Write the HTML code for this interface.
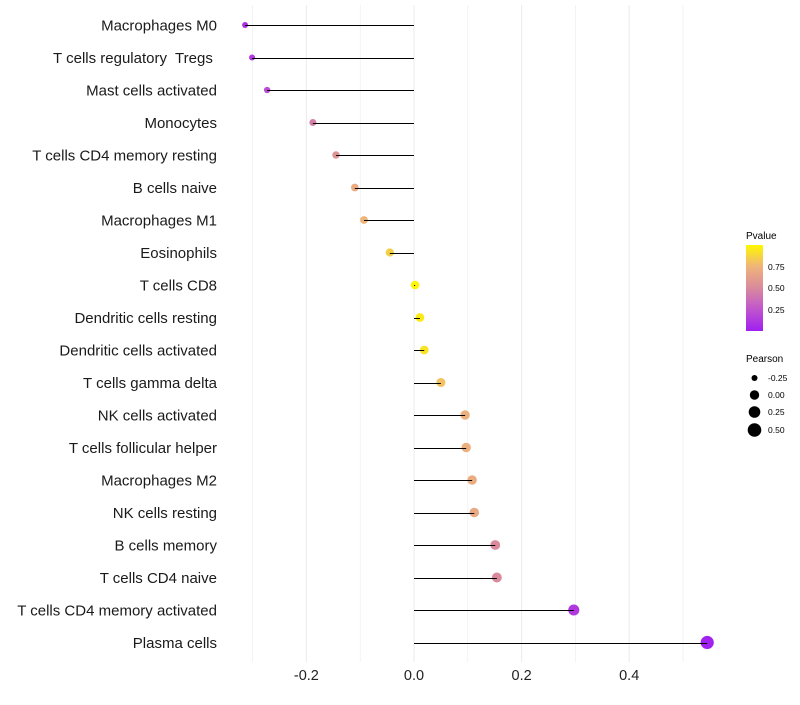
<!DOCTYPE html>
<html><head><meta charset="utf-8"><style>
body{margin:0;background:#fff;font-family:"Liberation Sans",sans-serif}
</style></head><body>
<svg id="c" width="800" height="700" xmlns="http://www.w3.org/2000/svg">
<defs><linearGradient id="pg" x1="0" y1="1" x2="0" y2="0">
<stop offset="0" stop-color="#a01ff0"/><stop offset="0.3" stop-color="#c55fc6"/><stop offset="0.5" stop-color="#d98a9c"/><stop offset="0.75" stop-color="#efb47a"/><stop offset="1" stop-color="#fff700"/></linearGradient></defs>
<g id="grid"></g><g id="pts"></g><g id="marks"></g><g id="ylab"></g><g id="xlab"></g>
<g>
<text x="746" y="239" font-size="10">Pvalue</text>
<rect x="746" y="245" width="17" height="86" fill="url(#pg)"/>
<text x="768" y="270" font-size="8.5">0.75</text>
<text x="768" y="291" font-size="8.5">0.50</text>
<text x="768" y="313" font-size="8.5">0.25</text>
</g>
<g>
<text x="746" y="362" font-size="10">Pearson</text>
<circle cx="754.5" cy="378" r="3"/>
<circle cx="754.5" cy="395" r="4.7"/>
<circle cx="754.5" cy="412" r="5.8"/>
<circle cx="754.5" cy="430" r="6.8"/>
<text x="768" y="381" font-size="8.5">-0.25</text>
<text x="768" y="398" font-size="8.5">0.00</text>
<text x="768" y="415" font-size="8.5">0.25</text>
<text x="768" y="433" font-size="8.5">0.50</text>
</g>
</svg>
<script>
const categories=["Macrophages M0","T cells regulatory  Tregs ","Mast cells activated","Monocytes","T cells CD4 memory resting","B cells naive","Macrophages M1","Eosinophils","T cells CD8","Dendritic cells resting","Dendritic cells activated","T cells gamma delta","NK cells activated","T cells follicular helper","Macrophages M2","NK cells resting","B cells memory","T cells CD4 naive","T cells CD4 memory activated","Plasma cells"];
const pearson=[-0.314,-0.301,-0.273,-0.188,-0.145,-0.110,-0.093,-0.045,0.002,0.011,0.019,0.050,0.095,0.097,0.108,0.112,0.151,0.154,0.297,0.545];
const pvalues=[0.08,0.12,0.2,0.45,0.55,0.7,0.75,0.85,0.99,0.95,0.92,0.8,0.72,0.72,0.7,0.68,0.5,0.5,0.12,0.01];
const xticks=[-0.2,0.0,0.2,0.4];
const xtickLabels=["-0.2","0.0","0.2","0.4"];
const NS="http://www.w3.org/2000/svg";
const X=v=>414+v*538;
const Y=i=>25+i*32.5;
const R=v=>4.3+4.2*v;
const stops=[[0,[160,31,240]],[0.3,[197,95,198]],[0.5,[217,138,156]],[0.75,[239,180,122]],[1,[255,247,0]]];
function col(p){for(let k=1;k<stops.length;k++){if(p<=stops[k][0]){const a=stops[k-1],b=stops[k],t=(p-a[0])/(b[0]-a[0]);return`rgb(${a[1].map((c,j)=>Math.round(c+(b[1][j]-c)*t)).join(",")})`;}}return"rgb(255,247,0)";}
function mk(t,a,p){const e=document.createElementNS(NS,t);for(const k in a)e.setAttribute(k,a[k]);p.appendChild(e);return e;}
const grid=document.getElementById("grid"),pts=document.getElementById("pts"),marks=document.getElementById("marks"),ylab=document.getElementById("ylab"),xlab=document.getElementById("xlab");
for(let v=-0.3;v<=0.51;v+=0.1){const l=mk("line",{x1:X(v),x2:X(v),y1:5,y2:662,stroke:"#ebebeb","stroke-width":Math.abs(Math.round(v*10))%2==0?1:0.6},grid);

}
xticks.forEach((v,i)=>{const t=mk("text",{x:X(v),y:680,"font-size":14.5,"text-anchor":"middle",fill:"#222"},xlab);t.textContent=xtickLabels[i];

});
categories.forEach((c,i)=>{
const t=mk("text",{x:217,y:Y(i)+5.5,"font-size":15,"text-anchor":"end",fill:"#1a1a1a"},ylab);t.textContent=c;
t.style.whiteSpace="pre";


const d=mk("circle",{cx:X(pearson[i]),cy:Y(i),r:Math.max(1.8,R(pearson[i])),fill:col(pvalues[i])},pts);


const l=mk("line",{x1:X(0),x2:X(pearson[i]),y1:Math.round(Y(i))+0.5,y2:Math.round(Y(i))+0.5,stroke:"#000","stroke-width":1},marks);


});
</script>
</body></html>
